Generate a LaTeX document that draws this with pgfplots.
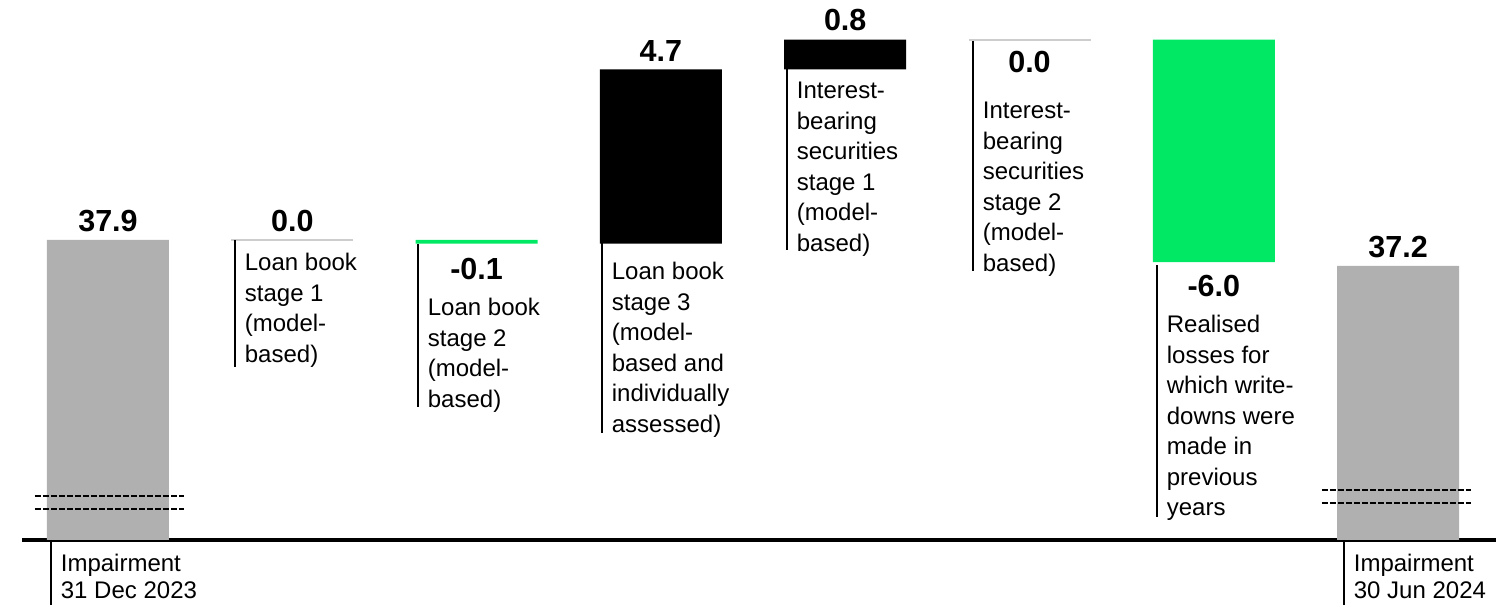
\documentclass[border=0pt]{standalone}
\usepackage{pgfplots}
\usepackage{pgfplotstable}
\pgfplotsset{compat=1.18}
\usepackage{fontspec}
\setmainfont{Liberation Sans}

\definecolor{barGrey}{RGB}{176,176,176}
\definecolor{barGreen}{RGB}{0,232,100}
\definecolor{zeroGrey}{RGB}{205,205,205}
\newcommand\valfont{\fontsize{15.25bp}{16bp}\selectfont\bfseries}
\tikzset{val/.style={inner sep=0pt, font=\valfont}}

% Waterfall: invisible base, opening/closing totals, increases, decreases
\pgfplotstableread{
x base total up   down
0 0    37.9  0    0
1 37.9 0     0    0
2 37.8 0     0    0.1
3 37.8 0     4.7  0
4 42.5 0     0.8  0
5 43.3 0     0    0
6 37.3 0     0    6.0
7 0    37.2  0    0
}\waterfall

% Steps with no change, shown as a hairline at their level
\pgfplotstableread{
x level change
1 37.9  0.0
5 43.3  0.0
}\nochange

\pgfplotsset{wfaxis/.style={
  at={(11bp,32.5bp)}, anchor=south west, scale only axis,
  width=737bp, height=270bp,
  xmin=-0.4666, xmax=7.5312, ymin=29.814, ymax=44.369,
  hide axis, clip mode=individual}}

% category label with a rule on its left (pixel-style coordinates)
\newcommand\cat[6][15.25bp]{%
  \draw[line width=0.8bp] (#2,#3) -- (#2,#5);
  \node[anchor=north west, inner sep=0pt, align=left,
        font={\fontsize{12bp}{#1}\selectfont}]
    at (#2+9.5,#4) {#6};}

\begin{document}
\begin{tikzpicture}
\useasboundingbox (0,0) rectangle (748bp,302.5bp);
\begin{axis}[wfaxis, ybar stacked, bar width=61bp]
  \addplot[draw=none, fill=none] table[x=x, y=base] {\waterfall};
  \addplot[draw=none, fill=barGrey] table[x=x, y=total] {\waterfall};
  \addplot[draw=none, fill=black] table[x=x, y=up] {\waterfall};
  \addplot[draw=none, fill=barGreen] table[x=x, y=down] {\waterfall};
  \draw[line width=1.75bp] (rel axis cs:0,0) -- (rel axis cs:1,0);
  \node[val, anchor=south, yshift=4bp] at (axis cs:0,37.9) {37.9};
  \node[val, anchor=south, yshift=4bp] at (axis cs:1,37.9) {0.0};
  \node[val, anchor=north, yshift=-7bp] at (axis cs:2,37.8) {-0.1};
  \node[val, anchor=south, yshift=3.5bp] at (axis cs:3,42.5) {4.7};
  \node[val, anchor=south, yshift=4bp] at (axis cs:4,43.3) {0.8};
  \node[val, anchor=north, yshift=-5.5bp] at (axis cs:5,43.3) {0.0};
  \node[val, anchor=north, yshift=-6.5bp] at (axis cs:6,37.3) {-6.0};
  \node[val, anchor=south, yshift=4bp] at (axis cs:7,37.2) {37.2};
\end{axis}
\begin{axis}[wfaxis]
  \addplot[only marks, mark=-, mark size=30.5bp,
    mark options={draw=zeroGrey, line width=1bp}]
    table[x=x, y expr=\thisrow{level}+\thisrow{change}] {\nochange};
\end{axis}
\begin{scope}[x=0.5bp, y=-0.5bp, shift={(0,302.5bp)}]
  % axis break marks on the two totals
  \begin{scope}[dash pattern=on 3bp off 1bp, line width=0.6bp]
    \draw (35,496) -- (184,496);
    \draw (35,509) -- (184,509);
    \draw (1322,490) -- (1471,490);
    \draw (1322,503) -- (1471,503);
  \end{scope}
  \cat[13.5bp]{51}{540}{554}{605}{Impairment\\31 Dec 2023}
  \cat{235}{240}{253}{367}{Loan book\\stage 1\\(model-\\based)}
  \cat{418}{244}{298}{407}{Loan book\\stage 2\\(model-\\based)}
  \cat{602}{243}{262}{433}{Loan book\\stage 3\\(model-\\based and\\individually\\assessed)}
  \cat{787}{69}{82}{250}{Interest-\\bearing\\securities\\stage 1\\(model-\\based)}
  \cat{973}{41}{102}{271}{Interest-\\bearing\\securities\\stage 2\\(model-\\based)}
  \cat{1157}{265}{315}{517}{Realised\\losses for\\which write-\\downs were\\made in\\previous\\years}
  \cat[13.5bp]{1344}{540}{554}{605}{Impairment\\30 Jun 2024}
\end{scope}
\end{tikzpicture}
\end{document}
